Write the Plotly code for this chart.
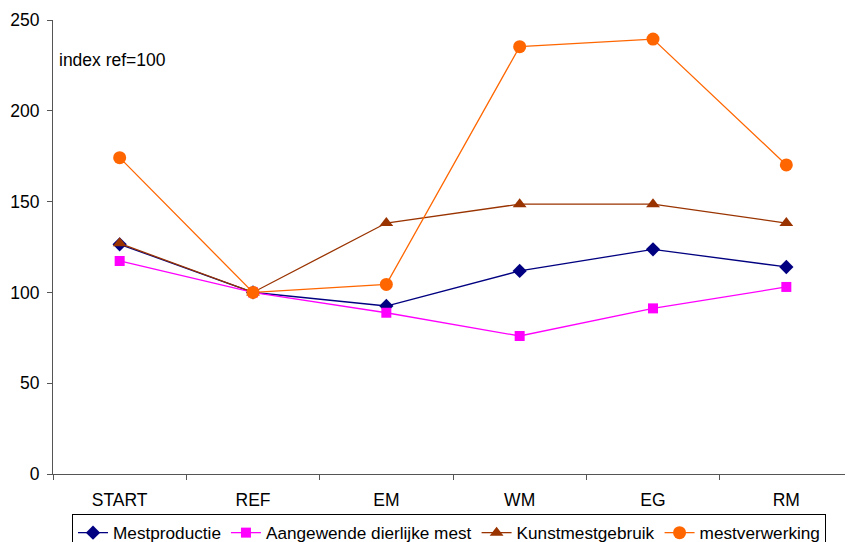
import plotly.graph_objects as go

categories = ["START", "REF", "EM", "WM", "EG", "RM"]
mestproductie = [126.5, 100, 92.5, 111.8, 123.7, 114]
aangewende = [117.3, 100, 88.8, 76, 91.2, 103]
kunstmest = [127, 100, 138.2, 148.6, 148.6, 138.2]
mestverwerking = [174.2, 100, 104.4, 235.3, 239.5, 170.2]

series = [
    ("Mestproductie", mestproductie, "#000080", "diamond", 11),
    ("Aangewende dierlijke mest", aangewende, "#FF00FF", "square", 10),
    ("Kunstmestgebruik", kunstmest, "#993300", "triangle-up", 12),
    ("mestverwerking", mestverwerking, "#FF6600", "circle", 13),
]

fig = go.Figure()
for name, vals, col, sym, sz in series:
    fig.add_trace(go.Scatter(
        x=categories, y=vals, name=name, mode="lines+markers",
        line=dict(color=col, width=1.3),
        marker=dict(color=col, symbol=sym, size=sz, line=dict(width=0)),
    ))

FS = 17.5
fig.update_layout(
    width=845, height=534,
    margin=dict(l=45, r=0, t=12, b=68, autoexpand=False),
    paper_bgcolor="white", plot_bgcolor="white",
    font=dict(family="Liberation Sans, Arial, sans-serif", size=FS, color="black"),
    showlegend=True,
    legend=dict(orientation="h", x=0.495, xanchor="center", y=-0.088, yanchor="top",
                bordercolor="black", borderwidth=1, font=dict(size=17.2),
                itemwidth=30, tracegroupgap=0),
    annotations=[dict(text="index ref=100", x=0, xref="paper", xanchor="left",
                      xshift=4, y=228, yref="y", yanchor="middle",
                      showarrow=False, font=dict(size=FS))],
)
fig.update_xaxes(type="category", range=[-0.5, 5.5], showline=True, linecolor="#555555",
                 linewidth=1, ticks="outside", tickson="boundaries", ticklen=5,
                 tickcolor="#555555", showgrid=False, zeroline=False,
                 ticklabelstandoff=10, automargin=False)
fig.update_yaxes(range=[0, 250], tickvals=[0, 50, 100, 150, 200, 250], showline=True,
                 linecolor="#555555", linewidth=1, ticks="outside", ticklen=5,
                 tickcolor="#555555", showgrid=False, zeroline=False,
                 ticklabelstandoff=4, automargin=False)

fig.write_html("out.html")
